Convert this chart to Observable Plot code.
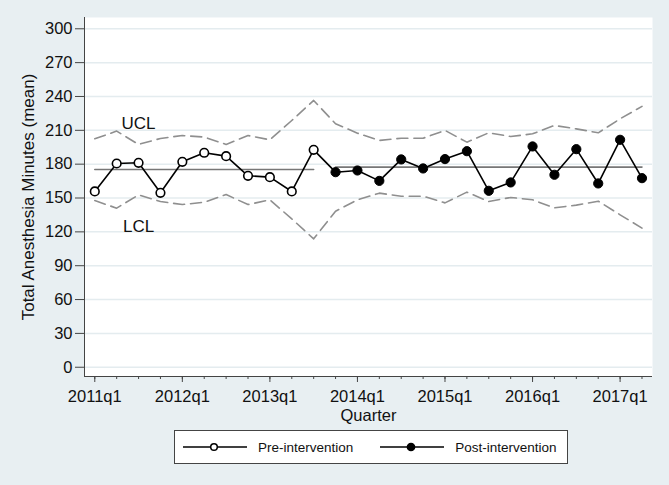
<!DOCTYPE html>
<html>
<head>
<meta charset="utf-8">
<script src="https://cdn.jsdelivr.net/npm/d3@7"></script>
<script src="https://cdn.jsdelivr.net/npm/@observablehq/plot@0.6"></script>
<style>
  html, body { margin: 0; padding: 0; background: #e8eff2; }
  #wrap { position: relative; width: 669px; height: 485px; font-family: "Liberation Sans", Arial, sans-serif; }
  #chart svg { display: block; }
  #legend { position: absolute; left: 174px; top: 430px; width: 394px; height: 34px; background: #fff; border: 1px solid #444; box-sizing: border-box; display: flex; align-items: center; font-size: 13.5px; color: #111; white-space: nowrap; }
  #legend .item { display: flex; align-items: center; flex: none; }
  #legend svg { display: block; }
</style>
</head>
<body>
<div id="wrap"><div id="chart"></div><div id="legend"></div></div>
<script>
const quarters = ["2011q1","2011q2","2011q3","2011q4","2012q1","2012q2","2012q3","2012q4",
  "2013q1","2013q2","2013q3","2013q4","2014q1","2014q2","2014q3","2014q4",
  "2015q1","2015q2","2015q3","2015q4","2016q1","2016q2","2016q3","2016q4","2017q1","2017q2"];
const preValues = [155.8, 180.6, 181.2, 154.6, 182.1, 190.1, 187.1, 169.7, 168.5, 155.8, 192.7];
const postValues = [172.9, 174.4, 165.2, 184.2, 176.2, 184.5, 191.5, 156.4, 163.8, 195.7, 170.6, 193.3, 162.9, 201.6, 167.6];
const ucl = [202.5, 209.3, 197.5, 202.8, 205.4, 204.0, 197.5, 205.4, 201.6, 218.7, 236.5,
  215.8, 207.5, 201.0, 203.0, 203.0, 209.9, 199.5, 207.8, 204.5, 206.9, 214.3, 211.3, 207.8, 220.2, 231.2];
const lcl = [147.8, 141.0, 152.8, 146.9, 144.2, 146.3, 153.1, 144.2, 148.4, 131.5, 113.8,
  138.3, 148.4, 154.3, 151.6, 151.6, 145.7, 155.2, 146.9, 150.5, 148.4, 141.3, 143.7, 147.2, 135.1, 123.3];
const centerPre = 175.3;
const centerPost = 177.4;
const yTicks = [0, 30, 60, 90, 120, 150, 180, 210, 240, 270, 300];
const xLabelTicks = ["2011q1","2012q1","2013q1","2014q1","2015q1","2016q1","2017q1"];
const seriesNames = ["Pre-intervention", "Post-intervention"];
const limitLabels = [{label: "UCL", q: "2011q3", v: 216}, {label: "LCL", q: "2011q3", v: 125}];

const nPre = preValues.length;
const all = quarters.map((q, i) => ({
  i, q,
  value: i < nPre ? preValues[i] : postValues[i - nPre],
  group: i < nPre ? "pre" : "post",
  ucl: ucl[i], lcl: lcl[i],
  center: i < nPre ? centerPre : centerPost
}));
const pre = all.filter(d => d.group === "pre");
const post = all.filter(d => d.group === "post");
const idx = q => quarters.indexOf(q);
const xDomain = [-0.47, quarters.length - 1 + 0.48];
const yDomain = [-8.2, 310];
const font = '"Liberation Sans", Arial, sans-serif';

const chart = Plot.plot({
  width: 669,
  height: 428,
  marginLeft: 84,
  marginRight: 17,
  marginTop: 17,
  marginBottom: 52,
  style: {background: "transparent", fontFamily: font, fontSize: "16.5px", color: "#111"},
  x: {type: "linear", domain: xDomain},
  y: {domain: yDomain},
  marks: [
    Plot.frame({fill: "white", stroke: null}),
    Plot.gridY(yTicks, {stroke: "#e4ecef", strokeOpacity: 1, strokeWidth: 1.5}),
    Plot.axisY(yTicks, {tickSize: 9, tickPadding: 3, stroke: "#444", fontSize: 16.5, label: null}),
    Plot.axisY({ticks: [], label: "Total Anesthesia Minutes (mean)", labelAnchor: "center", labelOffset: 63, labelArrow: "none", fontSize: 17}),
    Plot.axisX(quarters.map((q, i) => i), {tickSize: 3, stroke: "#444", tickFormat: () => "", label: null}),
    Plot.axisX(xLabelTicks.map(idx), {tickSize: 6, tickPadding: 8, stroke: "#444", fontSize: 16.5, tickFormat: i => quarters[i], label: "Quarter", labelAnchor: "center", labelOffset: 44, labelArrow: "none"}),
    Plot.ruleX([xDomain[0]], {stroke: "#444", strokeWidth: 1}),
    Plot.ruleY([yDomain[0]], {stroke: "#444", strokeWidth: 1}),
    Plot.line(all, {x: "i", y: "ucl", stroke: "#8f8f8f", strokeWidth: 1.6, strokeDasharray: "11,6"}),
    Plot.line(all, {x: "i", y: "lcl", stroke: "#8f8f8f", strokeWidth: 1.6, strokeDasharray: "11,6"}),
    Plot.line(pre, {x: "i", y: "center", stroke: "#777", strokeWidth: 1.6}),
    Plot.line(post, {x: "i", y: "center", stroke: "#777", strokeWidth: 1.6}),
    Plot.line(all, {x: "i", y: "value", stroke: "#000", strokeWidth: 1.6}),
    Plot.dot(pre, {x: "i", y: "value", r: 4.3, fill: "white", stroke: "#000", strokeWidth: 1.6}),
    Plot.dot(post, {x: "i", y: "value", r: 4.6, fill: "#000", stroke: "#000", strokeWidth: 1}),
    Plot.text(limitLabels, {x: d => idx(d.q), y: "v", text: "label", fontSize: 17, fill: "#111"})
  ]
});
document.getElementById("chart").appendChild(chart);

// Legend (HTML with small inline SVG symbols)
const legend = d3.select("#legend");
seriesNames.forEach((name, k) => {
  const item = legend.append("div").attr("class", "item").style("margin-left", k === 0 ? "7px" : "26px");
  const s = item.append("svg").attr("width", 66).attr("height", 14);
  s.append("line").attr("x1", 1).attr("x2", 65).attr("y1", 7).attr("y2", 7).attr("stroke", "#000").attr("stroke-width", 1.6);
  s.append("circle").attr("cx", 32).attr("cy", 7).attr("r", k === 0 ? 3.3 : 3.6)
    .attr("fill", k === 0 ? "#fff" : "#000").attr("stroke", "#000").attr("stroke-width", 1.5);
  item.append("span").style("margin-left", "10px").text(name);
});
</script>
</body>
</html>
